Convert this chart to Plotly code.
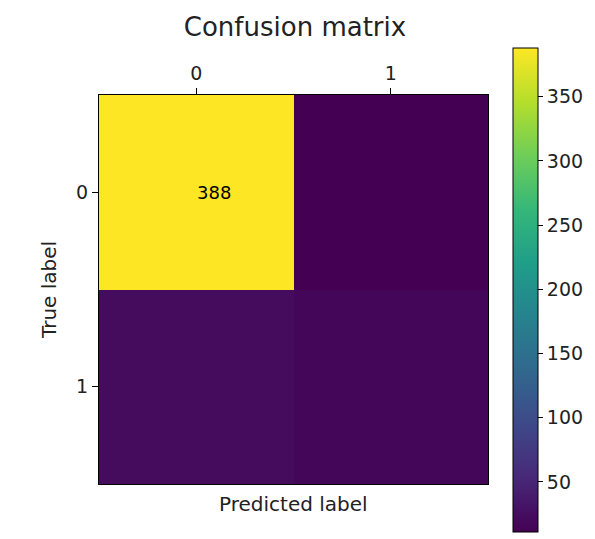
import plotly.graph_objects as go

true_labels = ["0", "1"]
pred_labels = ["0", "1"]
counts = [[388, 11], [22, 16]]
shown = [[True, False], [False, False]]

OFF = 8  # default page margin of the browser body
W, H = 595 - OFF, 539 - OFF
L, R, T, B = 99 - OFF, 488 - OFF, 95 - OFF, 484 - OFF
PW, PH = R - L, B - T

FONT = "DejaVu Sans"
TXT = "#222"

fig = go.Figure(go.Heatmap(
    z=counts,
    x=pred_labels,
    y=true_labels,
    colorscale="Viridis",
    hoverinfo="z",
    colorbar=dict(
        x=(513 - OFF - L) / PW, xanchor="left", xpad=0,
        y=(B - (290 - OFF)) / PH, yanchor="middle", ypad=0,
        len=484 / PH, lenmode="fraction",
        thickness=25, thicknessmode="pixels",
        outlinewidth=1, outlinecolor="black",
        tickvals=[50, 100, 150, 200, 250, 300, 350],
        ticks="outside", ticklen=5, tickcolor="black",
        tickfont=dict(family=FONT, size=19, color=TXT),
    ),
))

cell_annotations = []
for i, tl in enumerate(true_labels):
    for j, pl in enumerate(pred_labels):
        if shown[i][j]:
            cell_annotations.append(dict(
                text=str(counts[i][j]), x=pl, y=tl, xref="x", yref="y",
                xanchor="left", yanchor="middle", showarrow=False, xshift=-1,
                font=dict(family=FONT, size=18, color="black")))

fig.update_xaxes(side="top", ticks="outside", ticklen=6, tickcolor="black",
                 showline=True, linecolor="black", mirror=True, showgrid=False,
                 tickfont=dict(family=FONT, size=19, color=TXT))
fig.update_yaxes(autorange="reversed", ticks="outside", ticklen=6, tickcolor="black",
                 showline=True, linecolor="black", mirror=True, showgrid=False,
                 tickfont=dict(family=FONT, size=19, color=TXT),
                 title=dict(text="True label", font=dict(family=FONT, size=20, color=TXT), standoff=14))

fig.update_layout(
    width=W, height=H,
    margin=dict(l=L, r=W - R, t=T, b=H - B, autoexpand=False),
    paper_bgcolor="white", plot_bgcolor="white",
    title=dict(text="Confusion matrix", x=(295 - OFF) / W, xanchor="center",
               y=(H - (27 - OFF)) / H, yanchor="middle",
               font=dict(family=FONT, size=26, color=TXT)),
    annotations=cell_annotations + [dict(text="Predicted label", xref="paper", yref="paper", x=0.5, y=-0.015,
                      yanchor="top", showarrow=False,
                      font=dict(family=FONT, size=20, color=TXT))],
)

fig.write_html("out.html")
